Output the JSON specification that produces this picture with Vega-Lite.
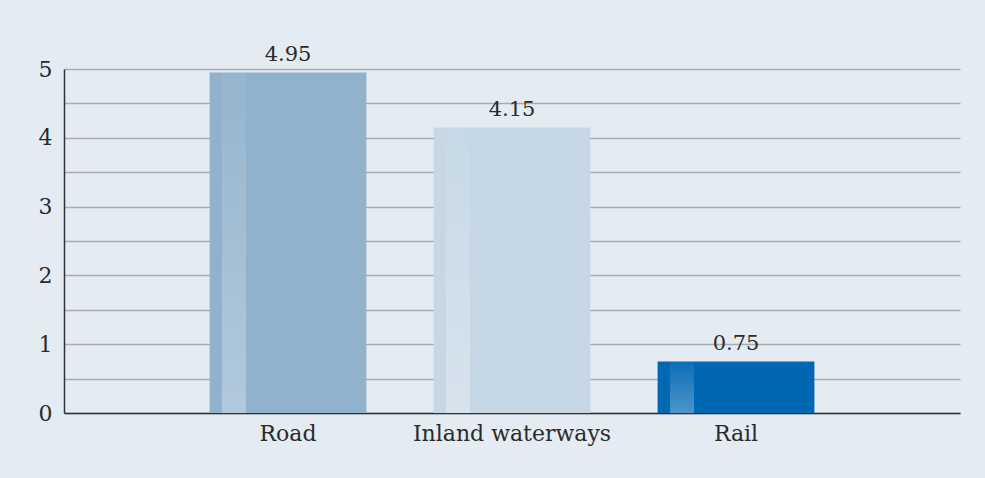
{
  "$schema": "https://vega.github.io/schema/vega-lite/v6.json",
  "width": 896,
  "height": 344,
  "autosize": {"type": "none"},
  "padding": {"left": 64, "top": 69, "right": 25, "bottom": 65},
  "background": "#e4ebf2",
  "config": {
    "view": {"stroke": null},
    "font": "DejaVu Serif",
    "axis": {"labelFont": "DejaVu Serif", "labelFontSize": 22, "labelColor": "#2b2b2b", "title": null, "labelLimit": 400}
  },
  "data": {
    "values": [
      {"mode": "Road", "value": 4.95, "color": "#91b2cc"},
      {"mode": "Inland waterways", "value": 4.15, "color": "#c5d7e5"},
      {"mode": "Rail", "value": 0.75, "color": "#0068b3"}
    ]
  },
  "encoding": {
    "x": {
      "field": "mode", "type": "nominal", "sort": null,
      "scale": {"paddingInner": 0.3, "paddingOuter": 0.65},
      "axis": {"labelAngle": 0, "ticks": false, "labelPadding": 10, "domainColor": "#333333", "domainWidth": 1.5, "grid": false}
    },
    "y": {
      "field": "value", "type": "quantitative",
      "scale": {"domain": [0, 5], "nice": false},
      "axis": {
        "values": [0, 0.5, 1, 1.5, 2, 2.5, 3, 3.5, 4, 4.5, 5],
        "labelExpr": "datum.value % 1 === 0 ? format(datum.value, 'd') : ''",
        "ticks": false, "labelPadding": 12,
        "domainColor": "#333333", "domainWidth": 1.5,
        "grid": true, "gridColor": "#a9abae", "gridWidth": 1.3, "gridOpacity": 1
      }
    }
  },
  "layer": [
    {
      "mark": {"type": "bar"},
      "encoding": {"color": {"field": "color", "type": "nominal", "scale": null}}
    },
    {
      "mark": {
        "type": "bar", "width": 24, "xOffset": -54,
        "color": {
          "gradient": "linear", "x1": 0, "y1": 0, "x2": 0, "y2": 1,
          "stops": [
            {"offset": 0, "color": "rgba(255,255,255,0.04)"},
            {"offset": 1, "color": "rgba(255,255,255,0.3)"}
          ]
        }
      },
      "encoding": {}
    },
    {
      "mark": {"type": "text", "dy": -11, "baseline": "alphabetic", "fontSize": 21, "color": "#2b2b2b", "font": "DejaVu Serif"},
      "encoding": {"text": {"field": "value", "type": "quantitative", "format": ".2f"}}
    }
  ]
}
